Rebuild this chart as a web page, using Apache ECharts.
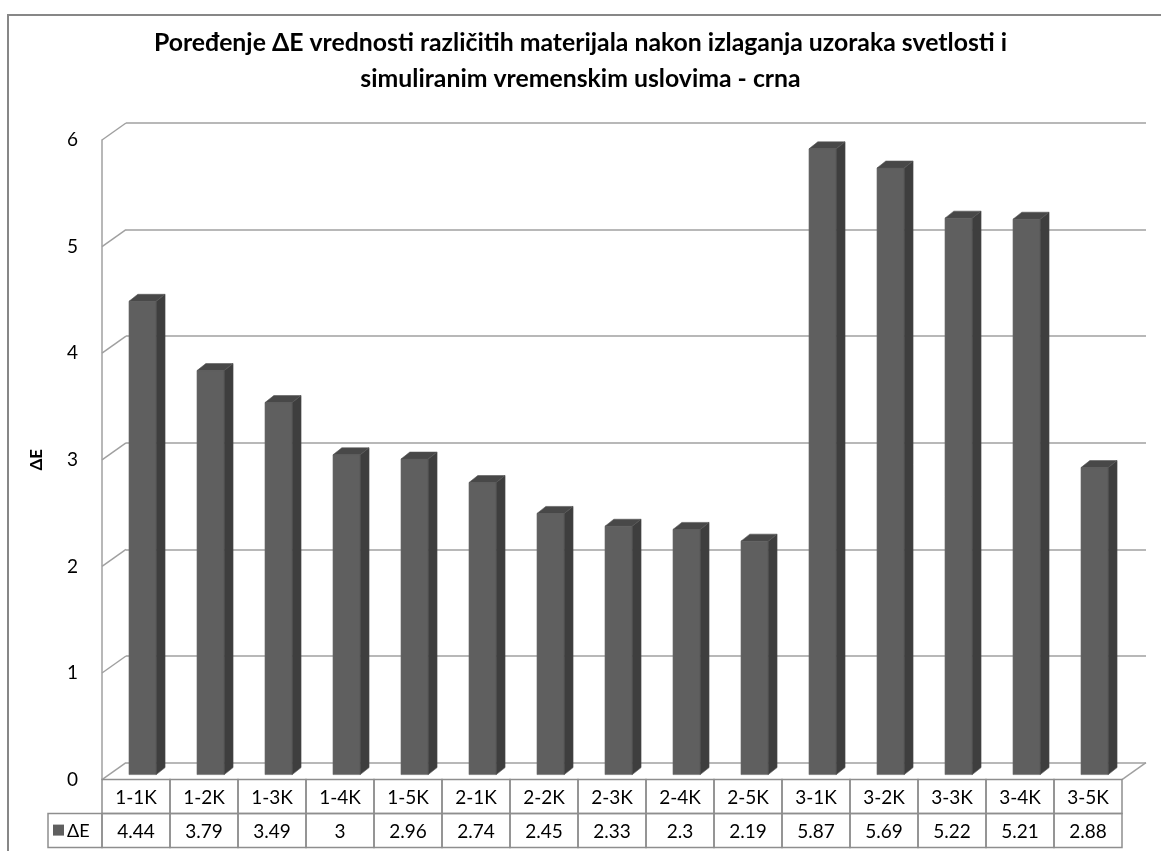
<!DOCTYPE html>
<html>
<head>
<meta charset="utf-8">
<script src="https://cdn.jsdelivr.net/npm/echarts@6/dist/echarts.min.js"></script>
<style>
html,body{margin:0;padding:0;background:#fff;}
#chart{width:1161px;height:851px;}
</style>
</head>
<body>
<div id="chart"></div>
<script>
const categories = ['1-1K','1-2K','1-3K','1-4K','1-5K','2-1K','2-2K','2-3K','2-4K','2-5K','3-1K','3-2K','3-3K','3-4K','3-5K'];
const values = [4.44,3.79,3.49,3,2.96,2.74,2.45,2.33,2.3,2.19,5.87,5.69,5.22,5.21,2.88];
const yTicks = [0,1,2,3,4,5,6];
const seriesName = 'ΔE';
const titleLines = ['Poređenje ΔE vrednosti različitih materijala nakon izlaganja uzoraka svetlosti i',
                    'simuliranim vremenskim uslovima - crna'];

const FONT = 'Lato';
const GRID_COLOR = '#a0a0a0';
const TABLE_COLOR = '#8e8e8e';
const DEPTH_X = 24, DEPTH_Y = 17;

const chart = echarts.init(document.getElementById('chart'), null, {renderer:'canvas'});

const titleStyle = {fontFamily:FONT,fontWeight:'bold',fontSize:24.8,lineHeight:30,color:'#000'};

const option = {
  backgroundColor:'#ffffff',
  animation:false,
  textStyle:{fontFamily:FONT},
  title:[
    {text:titleLines[0],left:'center',top:28,padding:0,textStyle:titleStyle},
    {text:titleLines[1],left:'center',top:64,padding:0,textStyle:titleStyle}
  ],
  graphic:[{
    type:'rect', silent:true, z:-1,
    shape:{x:8,y:15,width:1180,height:860},
    style:{fill:'none',stroke:'#878787',lineWidth:2}
  }],
  grid:[
    {left:126, top:123, width:1020, height:639.6, containLabel:false},
    {left:102, top:140, width:1020, height:639.6, containLabel:false}
  ],
  xAxis:[
    {gridIndex:0,type:'category',data:categories,show:false},
    {gridIndex:1,type:'category',data:categories,
     axisLine:{show:false},axisTick:{show:false},axisLabel:{show:false},splitLine:{show:false}}
  ],
  yAxis:[
    {gridIndex:0,type:'value',min:0,max:6,interval:1,
     axisLine:{show:false},axisTick:{show:false},axisLabel:{show:false},
     splitLine:{show:true,lineStyle:{color:GRID_COLOR,width:1.5}}},
    {gridIndex:1,type:'value',min:0,max:6,interval:1,
     axisLine:{show:true,lineStyle:{color:GRID_COLOR,width:1.5}},axisTick:{show:false},
     axisLabel:{color:'#000',fontSize:19,fontFamily:FONT,margin:24},
     splitLine:{show:false},
     name:seriesName,nameLocation:'middle',nameGap:57,nameRotate:90,
     nameTextStyle:{color:'#000',fontSize:17,fontWeight:'bold',fontFamily:FONT}}
  ],
  series:[
    {
      type:'custom', name:'connectors', xAxisIndex:1, yAxisIndex:1, clip:false, silent:true,
      data:yTicks.map(v=>[0,v]),
      renderItem:function(params, api){
        const v = api.value(1);
        const p = api.coord([0, v]);
        const cs = params.coordSys;
        const x0 = cs.x;
        const children = [{
          type:'line',
          shape:{x1:x0,y1:p[1],x2:x0+DEPTH_X,y2:p[1]-DEPTH_Y},
          style:{stroke:GRID_COLOR,lineWidth:1.5}
        }];
        if (v === 0) {
          children.push({
            type:'line',
            shape:{x1:x0+cs.width,y1:p[1],x2:x0+cs.width+DEPTH_X,y2:p[1]-DEPTH_Y},
            style:{stroke:GRID_COLOR,lineWidth:1.5}
          });
        }
        return {type:'group',children:children};
      }
    },
    {
      type:'custom', name:seriesName, xAxisIndex:1, yAxisIndex:1, clip:false,
      data:values.map((v,i)=>[i,v]),
      renderItem:function(params, api){
        const i = api.value(0);
        const v = api.value(1);
        const base = api.coord([i,0]);
        const top = api.coord([i,v]);
        const band = api.size([1,0])[0];
        const left = base[0] - band*0.103;
        const w = band*0.40;
        const off = -5;
        const sx = band*0.13, sy = -7;
        const yb = base[1]+off, yt = top[1]+off;
        return {type:'group',children:[
          {type:'rect',shape:{x:left,y:yt,width:w,height:yb-yt},
           style:{fill:'#5f5f5f',stroke:'#6a6a6a',lineWidth:0.6}},
          {type:'polygon',shape:{points:[[left+w,yt],[left+w+sx,yt+sy],[left+w+sx,yb+sy],[left+w,yb]]},
           style:{fill:'#3e3e3e',stroke:'#4a4a4a',lineWidth:0.6}},
          {type:'polygon',shape:{points:[[left,yt],[left+sx,yt+sy],[left+w+sx,yt+sy],[left+w,yt]]},
           style:{fill:'#484848',stroke:'#555',lineWidth:0.6}}
        ]};
      }
    },
    {
      type:'custom', name:'table', xAxisIndex:1, yAxisIndex:1, clip:false, silent:true,
      data:values.map((v,i)=>[i,v]),
      renderItem:function(params, api){
        const i = api.value(0);
        const v = api.value(1);
        const base = api.coord([i,0]);
        const band = api.size([1,0])[0];
        const cx = base[0];
        const xL = cx - band/2;
        const y0 = base[1];
        const rh = 34;
        const children = [
          {type:'rect',shape:{x:xL,y:y0,width:band,height:rh},style:{fill:'none',stroke:TABLE_COLOR,lineWidth:1.5}},
          {type:'rect',shape:{x:xL,y:y0+rh,width:band,height:rh},style:{fill:'none',stroke:TABLE_COLOR,lineWidth:1.5}},
          {type:'text',style:{text:categories[i],x:cx,y:y0+rh/2+1,align:'center',verticalAlign:'middle',
            font:'19px '+FONT,fill:'#000'}},
          {type:'text',style:{text:String(v),x:cx,y:y0+rh*1.5+1,align:'center',verticalAlign:'middle',
            font:'19px '+FONT,fill:'#000'}}
        ];
        if (i === 0) {
          children.push(
            {type:'rect',shape:{x:xL-54,y:y0+rh,width:54,height:rh},style:{fill:'none',stroke:TABLE_COLOR,lineWidth:1.5}},
            {type:'rect',shape:{x:xL-49,y:y0+rh+11,width:11,height:11},style:{fill:'#5f5f5f'}},
            {type:'text',style:{text:seriesName,x:xL-35,y:y0+rh*1.5+1,align:'left',verticalAlign:'middle',
              font:'18px '+FONT,fill:'#000'}}
          );
        }
        return {type:'group',children:children};
      }
    }
  ]
};
chart.setOption(option);
</script>
</body>
</html>
